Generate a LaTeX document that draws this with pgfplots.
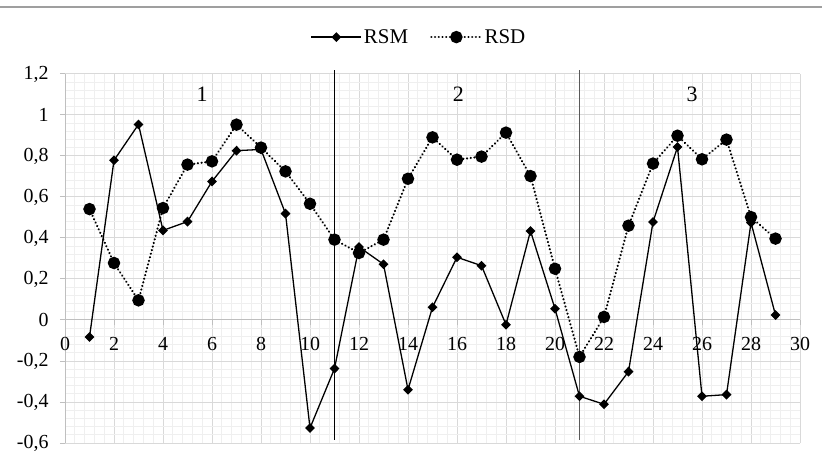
\documentclass[border=0pt]{standalone}
\usepackage{fontspec}
\setmainfont{Liberation Serif}
\usepackage{pgfplots}
\pgfplotsset{compat=1.18}
\definecolor{majgrid}{HTML}{D9D9D9}
\definecolor{mingrid}{HTML}{EFEFEF}
\definecolor{axgray}{HTML}{BFBFBF}
\definecolor{sepgray}{HTML}{595959}
\begin{document}
\begin{tikzpicture}
\useasboundingbox (-65bp,-14bp) rectangle (757bp,443bp);
\draw[color=gray!75, line width=2bp] (-65bp,436bp) -- (757bp,436bp);
\begin{axis}[
  scale only axis, width=735bp, height=369bp,
  xmin=0, xmax=30, ymin=-0.6, ymax=1.2,
  xtick={0,2,4,6,8,10,12,14,16,18,20,22,24,26,28,30},
  ytick={-0.6,-0.4,-0.2,0,0.2,0.4,0.6,0.8,1,1.2},
  yticklabels={{-0,6},{-0,4},{-0,2},{0},{0,2},{0,4},{0,6},{0,8},{1},{1,2}},
  minor x tick num=4, minor y tick num=4,
  grid=both,
  major grid style={majgrid, line width=1bp},
  minor grid style={mingrid, line width=0.8bp},
  axis x line=middle, axis y line=left,
  axis line style={-, axgray, line width=1bp},
  hide obscured x ticks=false, hide obscured y ticks=false,
  tick align=outside, major tick length=5bp, minor tick length=0pt,
  tick style={axgray, line width=1bp},
  /pgf/number format/assume math mode=true,
  tick label style={font=\fontsize{20}{24}\selectfont, text=black},
  xticklabel style={yshift=-9bp},
  yticklabel style={xshift=-8bp},
  clip=false,
  legend style={at={(0.4816,1.1),}, anchor=center, draw=none, fill=none,
    legend columns=2, font=\fontsize{21}{24}\selectfont,
    /tikz/every even column/.append style={column sep=20bp}},
  legend image code/.code={\draw[mark repeat=2,mark phase=2] plot coordinates {(0bp,0bp) (25bp,0bp) (50bp,0bp)};},
]
\addplot[black, line width=1.3bp, mark=diamond*, mark size=4bp, mark options={solid, xscale=1.33}]
coordinates {
(1,-0.083) (2,0.779) (3,0.954) (4,0.437) (5,0.480) (6,0.676) (7,0.826) (8,0.832) (9,0.519) (10,-0.527)
(11,-0.237) (12,0.356) (13,0.272) (14,-0.340) (15,0.062) (16,0.306) (17,0.265) (18,-0.023) (19,0.434) (20,0.055)
(21,-0.372) (22,-0.411) (23,-0.252) (24,0.478) (25,0.844) (26,-0.372) (27,-0.364) (28,0.475) (29,0.024)
};
\addlegendentry{RSM}
\addplot[black, line width=2.4bp, line cap=round, dash pattern=on 0.01bp off 3.7bp, mark=*, mark size=5bp, mark options={solid}]
coordinates {
(1,0.541) (2,0.278) (3,0.096) (4,0.546) (5,0.758) (6,0.774) (7,0.953) (8,0.841) (9,0.725) (10,0.567)
(11,0.392) (12,0.327) (13,0.392) (14,0.689) (15,0.891) (16,0.782) (17,0.797) (18,0.914) (19,0.702) (20,0.250)
(21,-0.180) (22,0.015) (23,0.460) (24,0.763) (25,0.899) (26,0.784) (27,0.880) (28,0.502) (29,0.397)
};
\addlegendentry{RSD}
\draw[black, line width=1.3bp] (axis cs:11,1.2195) -- (axis cs:11,-0.585);
\draw[sepgray, line width=1.3bp] (axis cs:21,1.2195) -- (axis cs:21,-0.585);
\node[font=\fontsize{22}{26}\selectfont] at (axis cs:5.6,1.1) {1};
\node[font=\fontsize{22}{26}\selectfont] at (axis cs:16.05,1.1) {2};
\node[font=\fontsize{22}{26}\selectfont] at (axis cs:25.6,1.1) {3};
\end{axis}
\end{tikzpicture}
\end{document}
